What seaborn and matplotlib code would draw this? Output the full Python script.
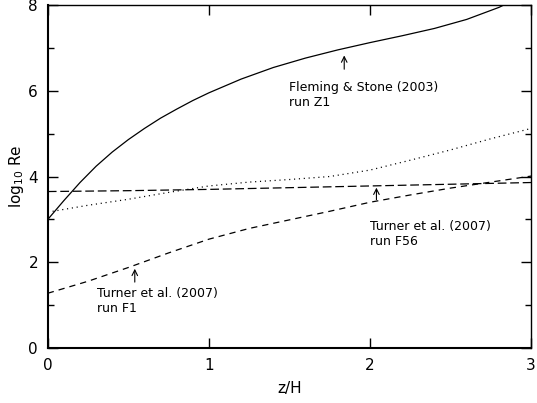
import numpy as np
import matplotlib
matplotlib.use("Agg")
import matplotlib.pyplot as plt
import seaborn as sns

# Fleming & Stone (2003) run Z1 (solid)
z_z1 = [0.0, 0.1, 0.2, 0.3, 0.4, 0.5, 0.6, 0.7, 0.8, 0.9, 1.0, 1.2, 1.4, 1.6,
        1.8, 2.0, 2.2, 2.4, 2.6, 2.8, 3.0]
re_z1 = [3.0, 3.44, 3.86, 4.24, 4.57, 4.86, 5.12, 5.36, 5.57, 5.77, 5.95, 6.27,
         6.54, 6.76, 6.95, 7.12, 7.28, 7.45, 7.66, 7.94, 8.3]

# dotted curve
z_dot = [0.0, 0.25, 0.5, 0.75, 1.0, 1.25, 1.5, 1.75, 2.0, 2.25, 2.5, 2.75, 3.0]
re_dot = [3.17, 3.33, 3.47, 3.63, 3.78, 3.87, 3.93, 4.0, 4.15, 4.38, 4.62, 4.88, 5.12]

# Turner et al. (2007) run F56 (long dashes)
z_f56 = [0.0, 0.5, 1.0, 1.5, 2.0, 2.5, 3.0]
re_f56 = [3.65, 3.67, 3.70, 3.74, 3.78, 3.82, 3.86]

# Turner et al. (2007) run F1 (dashes)
z_f1 = [0.0, 0.25, 0.5, 0.75, 1.0, 1.25, 1.5, 1.75, 2.0, 2.25, 2.5, 2.75, 3.0]
re_f1 = [1.28, 1.56, 1.88, 2.22, 2.54, 2.79, 2.99, 3.19, 3.40, 3.57, 3.73, 3.87, 4.01]

sns.set_style("ticks")
plt.rcParams['font.family'] = ['DejaVu Sans']
plt.rcParams['text.color'] = 'k'
plt.rcParams['axes.labelcolor'] = 'k'

fig, ax = plt.subplots(figsize=(5.37, 4.03), dpi=100)
fig.subplots_adjust(left=0.089, right=0.989, top=0.988, bottom=0.136)

lw = 0.9
sns.lineplot(x=z_z1, y=re_z1, ax=ax, color='k', lw=lw, linestyle='-')
sns.lineplot(x=z_dot, y=re_dot, ax=ax, color='k', lw=lw, linestyle=(0, (0.9, 3.0)))
sns.lineplot(x=z_f56, y=re_f56, ax=ax, color='k', lw=lw, linestyle=(0, (7, 3)))
sns.lineplot(x=z_f1, y=re_f1, ax=ax, color='k', lw=lw, linestyle=(0, (5, 4)))

ax.set_xlim(0, 3)
ax.set_ylim(0, 8)
ax.set_xticks([0, 1, 2, 3])
ax.set_yticks([0, 2, 4, 6, 8])
ax.set_yticks([1, 3, 5, 7], minor=True)
ax.tick_params(which='both', direction='in', top=True, right=True,
               labelsize=11, colors='k', labelcolor='k', width=1)
ax.tick_params(which='major', length=7, pad=7)
ax.tick_params(which='minor', length=4)
for s in ax.spines.values():
    s.set_color('k')
    s.set_linewidth(1.0)
ax.spines['left'].set_linewidth(1.5)
ax.spines['bottom'].set_linewidth(1.5)

ax.set_xlabel('z/H', fontsize=11, labelpad=6)
ax.set_ylabel('log$_{10}$ Re', fontsize=11, labelpad=2)

arrow = dict(arrowstyle='->', color='k', lw=0.8, shrinkA=0, shrinkB=0)
ax.annotate('', xy=(1.84, 6.82), xytext=(1.84, 6.5), arrowprops=arrow)
ax.annotate('', xy=(2.04, 3.74), xytext=(2.04, 3.46), arrowprops=arrow)
ax.annotate('', xy=(0.54, 1.85), xytext=(0.54, 1.54), arrowprops=arrow)

ax.text(1.5, 6.22, 'Fleming & Stone (2003)\nrun Z1', fontsize=9, va='top',
        ha='left', linespacing=1.2)
ax.text(2.0, 2.98, 'Turner et al. (2007)\nrun F56', fontsize=9, va='top',
        ha='left', linespacing=1.2)
ax.text(0.305, 1.42, 'Turner et al. (2007)\nrun F1', fontsize=9, va='top',
        ha='left', linespacing=1.2)

fig.savefig('out.png', dpi=100)
